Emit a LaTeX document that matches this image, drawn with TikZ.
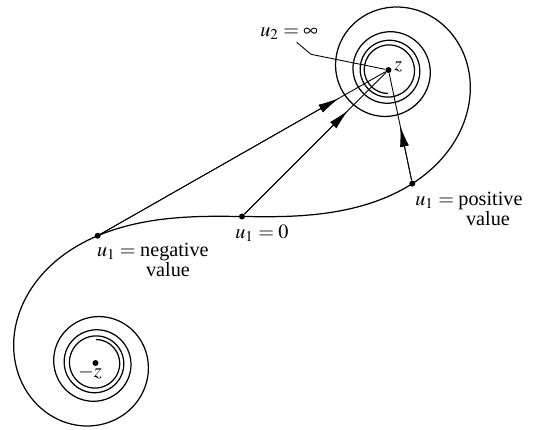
\documentclass[tikz,border=0pt]{standalone}
\usepackage{mathptmx}
\usepackage{fontspec}
\newfontfamily\tmfont{Liberation Serif}
\usetikzlibrary{arrows.meta,calc}

\begin{document}
\begin{tikzpicture}[x=5.86cm,y=5.86cm,
    declare function={
      fresf(\t)=(1+0.926*\t)/(2+1.792*\t+3.104*\t*\t);
      fresg(\t)=1/(2+4.142*\t+3.492*\t*\t+6.670*\t*\t*\t);
      fresc(\t)=0.5+fresf(\t)*sin(90*\t*\t)-fresg(\t)*cos(90*\t*\t);
      fress(\t)=0.5-fresf(\t)*cos(90*\t*\t)-fresg(\t)*sin(90*\t*\t);
    },
    ptdot/.style={circle,fill,inner sep=0pt,minimum size=0.12cm},
    ray/.style={line width=0.5pt},
    lbl/.style={font=\tmfont\fontsize{11.5}{11.5}\selectfont,inner sep=0pt}]
    \useasboundingbox (-0.8259,-0.7253) rectangle (1.00683,0.7389);

    \draw[line width=0.7pt] plot[domain=0:4,samples=400] ({fresc(\x)},{fress(\x)});
    \draw[line width=0.7pt] plot[domain=0:4,samples=400] ({-fresc(\x)},{-fress(\x)});

    \node[ptdot] (zp) at (0.5,0.5) {};
    \node[ptdot] (zm) at (-0.5,-0.5) {};
    \node[ptdot] (uneg) at ({-fresc(0.5)},{-fress(0.5)}) {};
    \node[ptdot] (uzero) at (0,0) {};
    \node[ptdot] (upos) at ({fresc(0.6)},{fress(0.6)}) {};

    \foreach \p in {uneg,uzero,upos}{
        \draw[ray,-{Latex[length=0.42cm,width=0.18cm]}] (\p) -- ($(zp)!1.14cm!(\p)$);
        \draw[ray] (\p) -- (zp);
    }

    \node[lbl,anchor=base west] at (-0.4959,-0.1372) {$u_1 = {}$negative};
    \node[lbl,anchor=base] at (-0.2526,-0.2055) {value};
    \node[lbl,anchor=base west] at (-0.0239,-0.0734) {$u_1 = 0$};
    \node[lbl,anchor=base west] at (0.5904,0.0392) {$u_1 = {}$positive};
    \node[lbl,anchor=base] at (0.8396,-0.0290) {value};
    \node[lbl,anchor=base west] (uinf) at (0.0614,0.6160) {$u_2 = \infty$};
    \node[lbl,anchor=base west] at (0.5188,0.5) {$z$};
    \node[lbl,anchor=base] at (-0.5188,-0.5478) {$-z$};

    \coordinate (lead) at (0.1867,0.5945);
    \coordinate (bend) at (0.2355,0.5536);
    \draw[ray] (lead) -- (bend) -- (zp);
\end{tikzpicture}
\end{document}
